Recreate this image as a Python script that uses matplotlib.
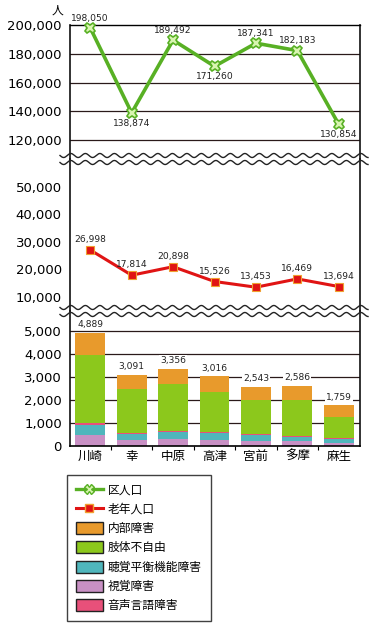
import numpy as np
import matplotlib
matplotlib.use("Agg")
import matplotlib.pyplot as plt
from matplotlib.lines import Line2D
from matplotlib.patches import Patch

plt.rcParams['font.family'] = ['DejaVu Sans', 'Noto Sans CJK JP']

# ---- data ----
wards = ['川崎', '幸', '中原', '高津', '宮前', '多摩', '麻生']
ward_pop = [198050, 138874, 189492, 171260, 187341, 182183, 130854]
ward_pop_labels = ['198,050', '138,874', '189,492', '171,260', '187,341', '182,183', '130,854']
ward_pop_label_pos = ['above', 'below', 'above', 'below', 'above', 'above', 'below']
elderly_pop = [26998, 17814, 20898, 15526, 13453, 16469, 13694]
elderly_labels = ['26,998', '17,814', '20,898', '15,526', '13,453', '16,469', '13,694']

# disability segments (bottom -> top)
visual = [460, 270, 290, 280, 200, 200, 140]        # 視覚障害
hearing = [470, 270, 330, 290, 260, 200, 170]       # 聴覚平衡機能障害
speech = [50, 40, 50, 40, 40, 40, 30]               # 音声言語障害
limb = [2962, 1870, 2010, 1740, 1500, 1540, 920]    # 肢体不自由
internal = [947, 641, 676, 666, 543, 606, 499]      # 内部障害
totals = [4889, 3091, 3356, 3016, 2543, 2586, 1759]
total_labels = ['4,889', '3,091', '3,356', '3,016', '2,543', '2,586', '1,759']

top_ticks = [120000, 140000, 160000, 180000, 200000]
top_tick_labels = ['120,000', '140,000', '160,000', '180,000', '200,000']
mid_ticks = [10000, 20000, 30000, 40000, 50000]
mid_tick_labels = ['10,000', '20,000', '30,000', '40,000', '50,000']
bot_ticks = [0, 1000, 2000, 3000, 4000, 5000]
bot_tick_labels = ['0', '1,000', '2,000', '3,000', '4,000', '5,000']

# ---- colors ----
c_green_line = '#58b024'
c_red_line = '#e01414'
c_internal = '#e89a2c'
c_limb = '#8cc81c'
c_hearing = '#4fb6bc'
c_visual = '#c890c4'
c_speech = '#e8507a'
grid_c = '#2a1a1a'

W, H = 377, 629
fig = plt.figure(figsize=(W / 100, H / 100), dpi=100)

def fy(px):
    return 1 - px / H

x0, x1 = 69.5, 359.5
def add_ax(ytop, ybot):
    return fig.add_axes([x0 / W, fy(ybot), (x1 - x0) / W, (ybot - ytop) / H])

ax_top = add_ax(25, 159)
ax_mid = add_ax(159, 311)
ax_bot = add_ax(311, 446)

x = np.arange(len(wards))
for ax in (ax_top, ax_mid, ax_bot):
    ax.set_xlim(-0.5, len(wards) - 0.5)
    ax.tick_params(axis='y', length=0, pad=5.5, labelsize=9.5)
    for s in ('left', 'right'):
        ax.spines[s].set_linewidth(1.2)
        ax.spines[s].set_color('#111111')
    ax.set_facecolor('none')

# top panel
ax_top.set_ylim(106800, 200000)
ax_top.set_yticks(top_ticks)
ax_top.set_yticklabels(top_tick_labels)
ax_top.set_xticks([])
ax_top.spines['bottom'].set_visible(False)
ax_top.spines['top'].set_linewidth(1.0)
for t in top_ticks[:-1]:
    ax_top.axhline(t, color=grid_c, lw=0.9, zorder=1)
ax_top.plot(x, ward_pop, color=c_green_line, lw=2.6, marker='X', ms=7.5,
            mfc='#d8f5b0', mec='#58b024', mew=1.2, zorder=3, clip_on=False)
for xi, v, lab, pos in zip(x, ward_pop, ward_pop_labels, ward_pop_label_pos):
    dy = 7 if pos == 'above' else -7.5
    ax_top.annotate(lab, (xi, v), xytext=(0, dy), textcoords='offset points',
                    ha='center', va='center', fontsize=6.6, color='#222222',
                    zorder=4, annotation_clip=False)

# middle panel
ax_mid.set_ylim(4800, 60070)
ax_mid.set_yticks(mid_ticks)
ax_mid.set_yticklabels(mid_tick_labels)
ax_mid.set_xticks([])
ax_mid.spines['top'].set_visible(False)
ax_mid.spines['bottom'].set_visible(False)
ax_mid.plot(x, elderly_pop, color=c_red_line, lw=2.2, marker='s', ms=5.5,
            mfc='#e01414', mec='#f0a030', mew=0.8, zorder=3)
for xi, v, lab in zip(x, elderly_pop, elderly_labels):
    ax_mid.annotate(lab, (xi, v), xytext=(0, 7.5), textcoords='offset points',
                    ha='center', va='center', fontsize=6.6, color='#222222', zorder=4)

# bottom panel
ax_bot.set_ylim(0, 5851)
ax_bot.set_yticks(bot_ticks)
ax_bot.set_yticklabels(bot_tick_labels)
ax_bot.spines['top'].set_visible(False)
ax_bot.spines['bottom'].set_linewidth(1.2)
for t in bot_ticks[1:]:
    ax_bot.axhline(t, color=grid_c, lw=0.9, zorder=1)
bw = 0.72
bottom = np.zeros(len(wards))
for vals, col in ((visual, c_visual), (hearing, c_hearing), (speech, c_speech),
                  (limb, c_limb), (internal, c_internal)):
    ax_bot.bar(x, vals, bw, bottom=bottom, color=col, zorder=2, linewidth=0)
    bottom = bottom + np.array(vals)
for xi, v, lab in zip(x, totals, total_labels):
    ax_bot.annotate(lab, (xi, v), xytext=(0, 6), textcoords='offset points',
                    ha='center', va='center', fontsize=6.6, color='#222222', zorder=4,
                    bbox=dict(boxstyle='square,pad=0.1', fc='white', ec='none'))
ax_bot.set_xticks(x)
ax_bot.set_xticklabels(wards, fontsize=9)
ax_bot.tick_params(axis='x', length=0, pad=3)
ax_bot.set_xticks(x[:-1] + 0.5, minor=True)
ax_bot.tick_params(axis='x', which='minor', length=3, width=0.8, direction='out')

# unit label
fig.text(57 / W, fy(10), '人', fontsize=8.5, ha='center', va='center')

# break waves
def wave(yc):
    xs = np.linspace(60, 368, 400)
    ys = yc + 2.0 * np.sin(2 * np.pi * (xs - 60) / 14.5)
    ln = Line2D(xs / W, 1 - ys / H, transform=fig.transFigure, color='#222222', lw=1.0, zorder=10)
    fig.lines.append(ln)

for yc in (155.5, 162.5, 307.5, 314.5):
    wave(yc)

# legend
handles = [
    Line2D([], [], color=c_green_line, lw=2.4, marker='X', ms=7, mfc='#d8f5b0', mec='#58b024'),
    Line2D([], [], color=c_red_line, lw=2.2, marker='s', ms=5.5, mfc='#e01414', mec='#f0a030'),
    Patch(fc=c_internal, ec='#222222', lw=1.0),
    Patch(fc=c_limb, ec='#222222', lw=1.0),
    Patch(fc=c_hearing, ec='#222222', lw=1.0),
    Patch(fc=c_visual, ec='#222222', lw=1.0),
    Patch(fc=c_speech, ec='#222222', lw=1.0),
]
labels = ['区人口', '老年人口', '内部障害', '肢体不自由', '聴覚平衡機能障害', '視覚障害', '音声言語障害']
leg = fig.legend(handles, labels, loc='upper left', bbox_to_anchor=(67 / W, fy(475)),
                 borderaxespad=0, fontsize=8.5, frameon=True, fancybox=False,
                 edgecolor='#111111', handlelength=2.3, handleheight=1.2,
                 labelspacing=0.52, handletextpad=0.4, borderpad=0.75,
                 prop={'family': ['Noto Sans CJK JP'], 'size': 8.5})
leg.get_frame().set_linewidth(1.0)

fig.savefig('out.png', dpi=100)
